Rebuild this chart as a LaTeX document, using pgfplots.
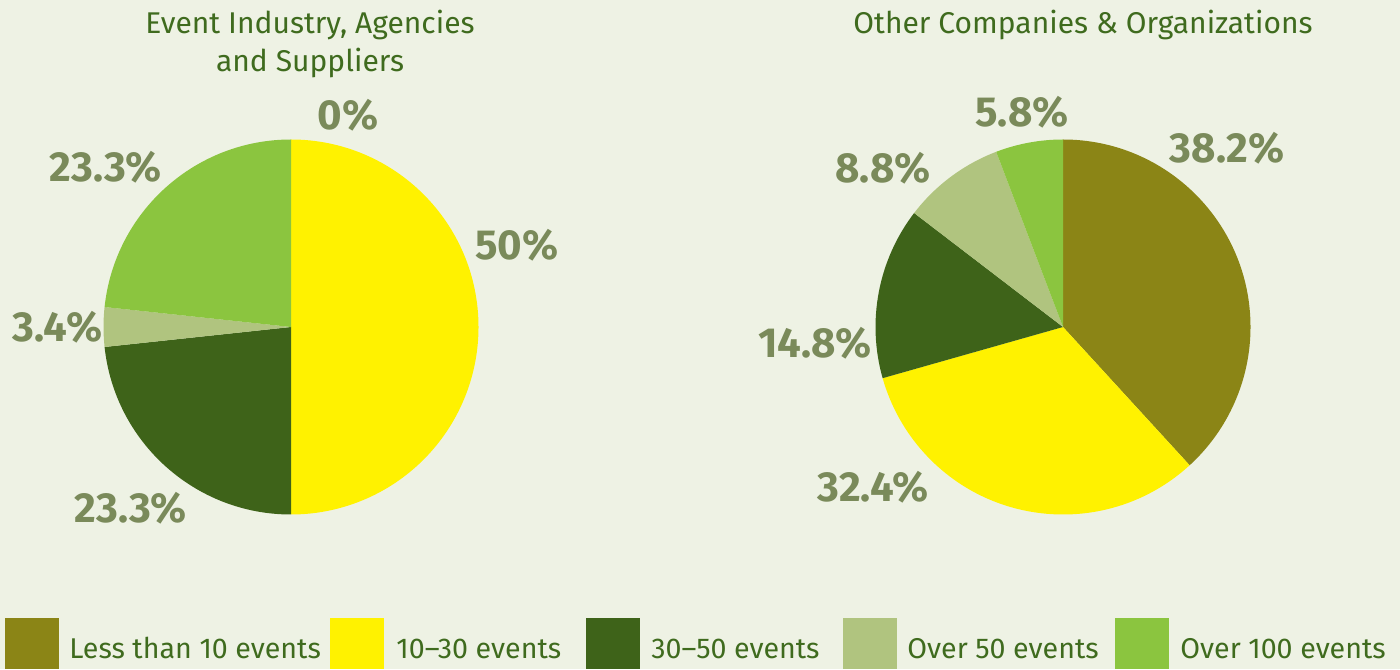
\documentclass[border=0pt]{standalone}
\usepackage{pgfplots}
\pgfplotsset{compat=1.18}
\usepackage{fontspec}
\setmainfont{Fira Sans}
\definecolor{bg}{HTML}{EEF2E4}
\definecolor{cA}{HTML}{8B8516}
\definecolor{cB}{HTML}{FFF200}
\definecolor{cC}{HTML}{3E6319}
\definecolor{cD}{HTML}{B0C47F}
\definecolor{cE}{HTML}{8BC53F}
\definecolor{titlecol}{HTML}{3F6B1E}
\definecolor{labcol}{HTML}{7A8A5A}
% slice: start percent, percent, colour
\newcommand\pieslice[3]{%
  \pgfmathsetmacro\sa{90-3.6*#1}%
  \pgfmathsetmacro\sb{90-3.6*(#1+#2)}%
  \edef\temp{\noexpand\fill[#3] (axis cs:0,0) -- (axis cs:{cos(\sa)},{sin(\sa)}) arc[start angle=\sa,end angle=\sb,radius=93.75pt] -- cycle;}%
  \temp}
\pgfplotsset{pie/.style={scale only axis,width=187.5pt,height=187.5pt,
  xmin=-1,xmax=1,ymin=-1,ymax=1,hide axis,clip=false,anchor=center}}
\begin{document}
\begin{tikzpicture}[x=0.5pt,y=0.5pt]
\useasboundingbox (0,0) rectangle (1400,669);
\fill[bg] (0,0) rectangle (1400,669);
\coordinate (LC) at (291,342);
\coordinate (RC) at (1063,342);
% left pie
\begin{axis}[pie,at={(LC)}]
\pieslice{0}{50}{cB}
\pieslice{50}{23.3}{cC}
\pieslice{73.3}{3.4}{cD}
\pieslice{76.7}{23.3}{cE}
\end{axis}
% right pie
\begin{axis}[pie,at={(RC)}]
\pieslice{0}{38.2}{cA}
\pieslice{38.2}{32.4}{cB}
\pieslice{70.6}{14.8}{cC}
\pieslice{85.4}{8.8}{cD}
\pieslice{94.2}{5.8}{cE}
\end{axis}
% titles
\node[anchor=base,text=titlecol,font=\fontsize{15}{19}\selectfont,align=center] at (310,597) {Event Industry, Agencies\\and Suppliers};
\node[anchor=base,text=titlecol,font=\fontsize{15}{19}\selectfont] at (1083,635) {Other Companies \& Organizations};
% percentage labels
\begin{scope}[every node/.style={anchor=base,text=labcol,font=\fontsize{21}{24}\selectfont\bfseries}]
\node at (348,539) {0\%};
\node at (106,487) {23.3\%};
\node at (517,409) {50\%};
\node at (57.5,327) {3.4\%};
\node at (131,147) {23.3\%};
\node at (1227,506) {38.2\%};
\node at (1022,542) {5.8\%};
\node at (883,486) {8.8\%};
\node at (815,311) {14.8\%};
\node at (873,168) {32.4\%};
\end{scope}
% legend
\begin{scope}[every node/.style={anchor=base west,text=titlecol,font=\fontsize{14.3}{18}\selectfont,inner sep=0pt}]
\fill[cA] (5,0) rectangle (59,51);   \node at (69,11) {Less than 10 events};
\fill[cB] (330,0) rectangle (384,51); \node at (396,11) {10--30 events};
\fill[cC] (586,0) rectangle (640,51); \node at (651,11) {30--50 events};
\fill[cD] (843,0) rectangle (897,51); \node at (907,11) {Over 50 events};
\fill[cE] (1115,0) rectangle (1169,51); \node at (1180,11) {Over 100 events};
\end{scope}
\end{tikzpicture}
\end{document}
